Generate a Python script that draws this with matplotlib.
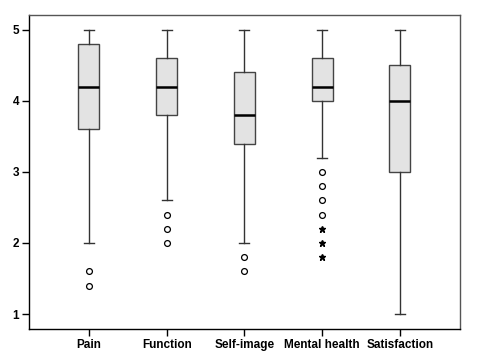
import matplotlib

matplotlib.use("Agg")
import matplotlib.pyplot as plt

# --- data ------------------------------------------------------------------
CATEGORIES = ["Pain", "Function", "Self-image", "Mental health", "Satisfaction"]
WHISK_LO = [2.0, 2.6, 2.0, 3.2, 1.0]
Q1 = [3.6, 3.8, 3.4, 4.0, 3.0]
MEDIAN = [4.2, 4.2, 3.8, 4.2, 4.0]
Q3 = [4.8, 4.6, 4.4, 4.6, 4.5]
WHISK_HI = [5.0, 5.0, 5.0, 5.0, 5.0]
OUTLIERS = [[1.6, 1.4], [2.4, 2.2, 2.0], [1.8, 1.6], [3.0, 2.8, 2.6, 2.4], []]
EXTREMES = [[], [], [], [2.2, 2.0, 1.8], []]  # drawn as stars
YTICKS = [1, 2, 3, 4, 5]

plt.rcParams["font.family"] = ["Liberation Sans", "DejaVu Sans"]

fig = plt.figure(figsize=(4.79, 3.56), dpi=100)
ax = fig.add_axes([0.0605, 0.076, 0.8995, 0.882])

stats = []
for i, name in enumerate(CATEGORIES):
    stats.append(dict(label=name, whislo=WHISK_LO[i], q1=Q1[i], med=MEDIAN[i],
                      q3=Q3[i], whishi=WHISK_HI[i], fliers=OUTLIERS[i]))

positions = list(range(1, len(CATEGORIES) + 1))
ax.bxp(
    stats, positions=positions, widths=0.27, patch_artist=True,
    boxprops=dict(facecolor="#e3e3e3", edgecolor="#444444", linewidth=1.0),
    medianprops=dict(color="black", linewidth=1.8),
    whiskerprops=dict(color="#333333", linewidth=1.0),
    capprops=dict(color="#333333", linewidth=1.0),
    capwidths=0.13,
    flierprops=dict(marker="o", markerfacecolor="none", markeredgecolor="black",
                    markersize=4.2, markeredgewidth=0.9, linestyle="none"),
)

for pos, vals in zip(positions, EXTREMES):
    if vals:
        ax.plot([pos] * len(vals), vals, linestyle="none", marker="*",
                color="black", markersize=5)

ax.set_xlim(0.23, 5.77)
ax.set_ylim(0.79, 5.21)
ax.set_yticks(YTICKS)
ax.set_xticks(positions)
ax.set_xticklabels(CATEGORIES, fontsize=8.5, fontweight="bold")
ax.set_yticklabels([str(v) for v in YTICKS], fontsize=8.5, fontweight="bold")
ax.tick_params(direction="out", length=5, width=1.0, color="black", pad=2)

for side in ("top", "right"):
    ax.spines[side].set_color("#555555")
for side in ("left", "bottom"):
    ax.spines[side].set_color("black")
for sp in ax.spines.values():
    sp.set_linewidth(1.0)

fig.savefig("out.png", dpi=100, facecolor="white")
